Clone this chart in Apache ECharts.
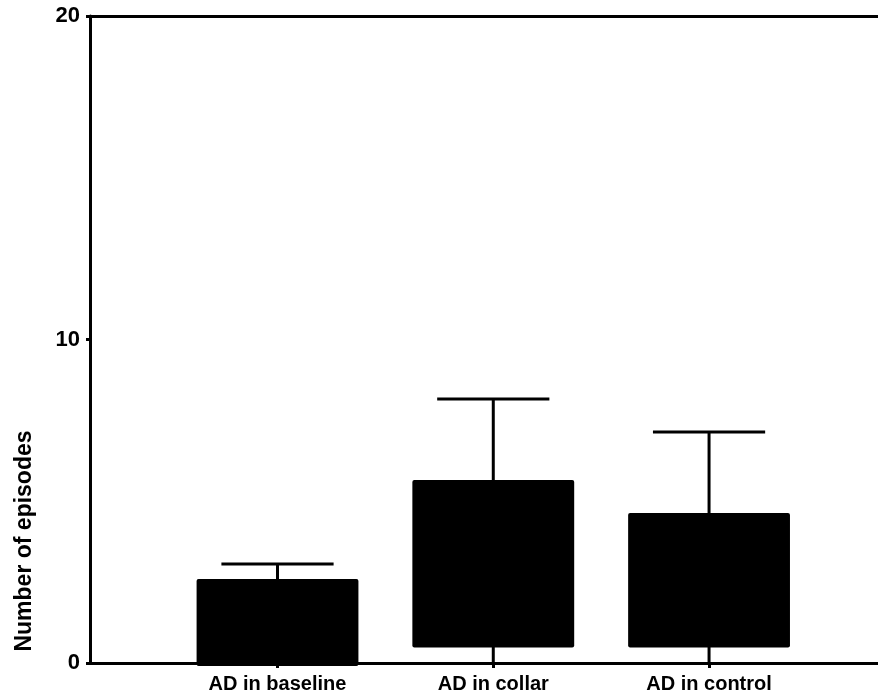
<!DOCTYPE html>
<html>
<head>
<meta charset="utf-8">
<script src="https://cdn.jsdelivr.net/npm/echarts@6/dist/echarts.min.js"></script>
<style>html,body{margin:0;padding:0;background:#fff;}#c{width:878px;height:698px;}</style>
</head>
<body>
<div id="c"></div>
<script>
const categories = ['AD in baseline', 'AD in collar', 'AD in control'];
const positions = [1, 2, 3];
const barBottom = [0, 0.48, 0.48];
const meanValues = [2.6, 5.66, 4.64];
const errorTop = [3.06, 8.16, 7.14];
const yTicks = [0, 10, 20];

const barData = positions.map((p, i) => [p, barBottom[i], meanValues[i]]);
const errData = positions.map((p, i) => [p, 0, errorTop[i]]);

const chart = echarts.init(document.getElementById('c'), null, {renderer: 'canvas'});
const FONT = '"Liberation Sans", Arial, sans-serif';
const xMin = 0.131, xMax = 3.783;

chart.setOption({
  animation: false,
  grid: {left: 90, right: 0, top: 16, bottom: 35},
  xAxis: [{
    type: 'value', min: xMin, max: xMax, position: 'bottom',
    axisLine: {show: true, lineStyle: {color: '#000', width: 3}},
    axisTick: {show: true, customValues: positions, length: 5, lineStyle: {color: '#000', width: 3}},
    axisLabel: {show: true, customValues: positions, margin: 11,
      formatter: v => categories[Math.round(v) - 1] || '',
      color: '#000', fontFamily: FONT, fontSize: 20, fontWeight: 'bold'},
    splitLine: {show: false}
  }, {
    type: 'value', min: xMin, max: xMax, position: 'top',
    axisLine: {show: true, lineStyle: {color: '#000', width: 3}},
    axisTick: {show: false}, axisLabel: {show: false}, splitLine: {show: false}
  }],
  yAxis: {
    type: 'value', min: 0, max: 20, interval: 10,
    axisLine: {show: true, lineStyle: {color: '#000', width: 3}},
    axisTick: {show: true, length: 4, lineStyle: {color: '#000', width: 3}},
    axisLabel: {color: '#000', fontFamily: FONT, fontSize: 22, fontWeight: 'bold', margin: 10},
    splitLine: {show: false}
  },
  graphic: [{
    type: 'text', x: 25, y: 541, rotation: Math.PI / 2,
    style: {text: 'Number of episodes', fill: '#000', font: 'bold 23px ' + FONT,
      textAlign: 'center', textVerticalAlign: 'middle'}
  }],
  series: [{
    type: 'custom', z: 2, clip: false,
    data: errData,
    renderItem: (params, api) => {
      const x = api.value(0);
      const bot = api.coord([x, api.value(1)]);
      const top = api.coord([x, api.value(2)]);
      const capL = api.coord([x - 0.26, api.value(2)]);
      const capR = api.coord([x + 0.26, api.value(2)]);
      const st = {stroke: '#000', lineWidth: 3};
      return {type: 'group', children: [
        {type: 'line', shape: {x1: bot[0], y1: bot[1], x2: top[0], y2: top[1]}, style: st},
        {type: 'line', shape: {x1: capL[0], y1: capL[1], x2: capR[0], y2: capR[1]}, style: st}
      ]};
    }
  }, {
    type: 'custom', z: 3,
    data: barData,
    renderItem: (params, api) => {
      const x = api.value(0);
      const p1 = api.coord([x - 0.375, api.value(2)]);
      const p2 = api.coord([x + 0.375, api.value(1)]);
      return {type: 'rect', shape: {x: p1[0], y: p1[1], width: p2[0] - p1[0], height: p2[1] - p1[1] + (api.value(1) === 0 ? 3 : 0), r: 2},
        style: {fill: '#000'}};
    }
  }]
});
</script>
</body>
</html>
